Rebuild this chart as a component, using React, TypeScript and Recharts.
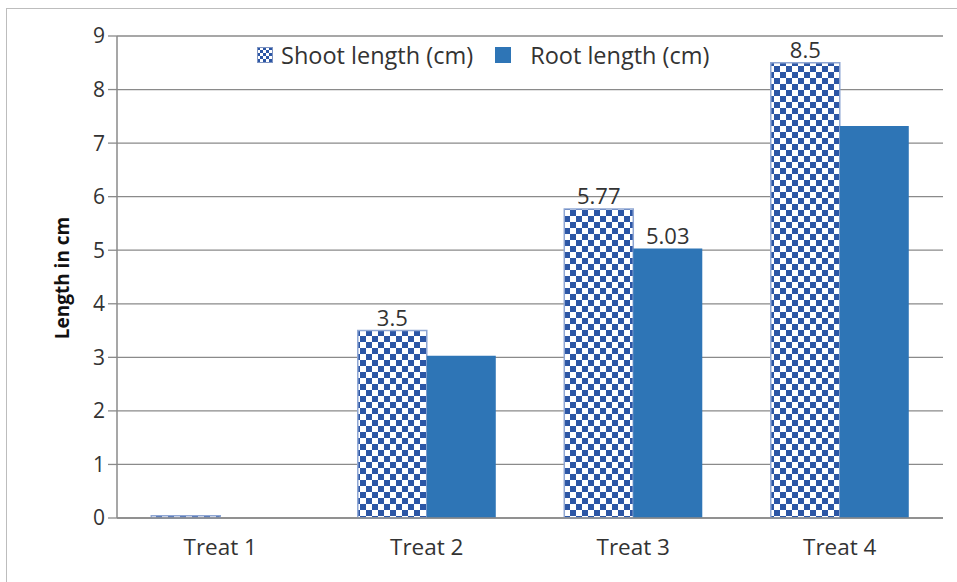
import { Bar, BarChart, CartesianGrid, LabelList, XAxis, YAxis } from "recharts";

const treatments = ["Treat 1", "Treat 2", "Treat 3", "Treat 4"];
const shootLength = [0.04, 3.5, 5.77, 8.5];
const rootLength = [0, 3.03, 5.03, 7.32];
const shootLabels = ["", "3.5", "5.77", "8.5"];
const rootLabels = ["", "", "5.03", ""];
const yTicks = [0, 1, 2, 3, 4, 5, 6, 7, 8, 9];

const data = treatments.map((name, i) => ({
  name,
  shoot: shootLength[i],
  root: rootLength[i],
  shootLabel: shootLabels[i],
  rootLabel: rootLabels[i],
}));

const FONT = "'Open Sans', sans-serif";
const CHECK_BLUE = "#2c56a5";
const ROOT_BLUE = "#2e75b6";
const GRID = "#8a8a8a";

const renderLabel = (props: any) => {
  const { x, y, width, value } = props;
  if (!value) return null;
  return (
    <text x={x + width / 2} y={y - 5} textAnchor="middle" fill="#333" fontSize={22} fontFamily={FONT}>
      {value}
    </text>
  );
};

function CheckIcon() {
  return (
    <svg width={16} height={16} style={{ display: "block" }}>
      <defs>
        <pattern id="check-legend" width={6} height={6} patternUnits="userSpaceOnUse">
          <rect width={6} height={6} fill="#fff" />
          <rect width={3} height={3} fill={CHECK_BLUE} />
          <rect x={3} y={3} width={3} height={3} fill={CHECK_BLUE} />
        </pattern>
      </defs>
      <rect x={0.5} y={0.5} width={15} height={15} fill="url(#check-legend)" stroke="#7f95c2" />
    </svg>
  );
}

function ChartLegend() {
  return (
    <div
      style={{
        position: "absolute",
        left: 257,
        top: 40,
        display: "flex",
        alignItems: "center",
        fontFamily: FONT,
        fontSize: 23.5,
        lineHeight: "30px",
        color: "#333",
        whiteSpace: "nowrap",
      }}
    >
      <CheckIcon />
      <span style={{ marginLeft: 8 }}>Shoot length (cm)</span>
      <span style={{ display: "inline-block", width: 16, height: 16, background: ROOT_BLUE, marginLeft: 22 }} />
      <span style={{ marginLeft: 19 }}>Root length (cm)</span>
    </div>
  );
}

export default function App() {
  return (
    <div
      style={{
        position: "fixed",
        top: 0,
        left: 0,
        width: 957,
        height: 582,
        background: "#fff",
        overflow: "hidden",
      }}
    >
      <div
        style={{
          position: "absolute",
          left: 6,
          top: 8,
          width: 960,
          height: 590,
          borderLeft: "1.5px solid #bdbdbd",
          borderTop: "1.5px solid #bdbdbd",
        }}
      />
      <div
        style={{
          position: "absolute",
          left: 62,
          top: 278,
          transform: "translate(-50%, -50%) rotate(-90deg)",
          fontFamily: FONT,
          fontWeight: 700,
          fontSize: 19,
          color: "#111",
          whiteSpace: "nowrap",
        }}
      >
        Length in cm
      </div>
      <BarChart
        width={957}
        height={582}
        data={data}
        margin={{ top: 36, right: 14, bottom: 34, left: 0 }}
        barCategoryGap="16.6%"
        barGap={0}
        style={{ position: "absolute", left: 0, top: 0 }}
      >
        <defs>
          <pattern id="check" width={12} height={12} patternUnits="userSpaceOnUse">
            <rect width={12} height={12} fill="#fff" />
            <rect width={6} height={6} fill={CHECK_BLUE} />
            <rect x={6} y={6} width={6} height={6} fill={CHECK_BLUE} />
          </pattern>
        </defs>
        <CartesianGrid vertical={false} stroke={GRID} strokeWidth={1.3} />
        <XAxis
          dataKey="name"
          axisLine={{ stroke: GRID, strokeWidth: 1.5 }}
          tickLine={false}
          tickSize={0}
          tickMargin={21}
          tick={{ fill: "#333", fontSize: 22.5, fontFamily: FONT }}
        />
        <YAxis
          width={117}
          domain={[0, 9]}
          ticks={yTicks}
          interval={0}
          axisLine={{ stroke: GRID, strokeWidth: 1.5 }}
          tickLine={{ stroke: GRID, strokeWidth: 1.3 }}
          tickSize={9}
          tickMargin={3}
          tick={{ fill: "#333", fontSize: 21, fontFamily: FONT }}
        />
        <Bar dataKey="shoot" fill="url(#check)" stroke="#8fa6d3" strokeWidth={1.5} isAnimationActive={false}>
          <LabelList dataKey="shootLabel" content={renderLabel} />
        </Bar>
        <Bar dataKey="root" fill={ROOT_BLUE} isAnimationActive={false}>
          <LabelList dataKey="rootLabel" content={renderLabel} />
        </Bar>
      </BarChart>
      <ChartLegend />
    </div>
  );
}
